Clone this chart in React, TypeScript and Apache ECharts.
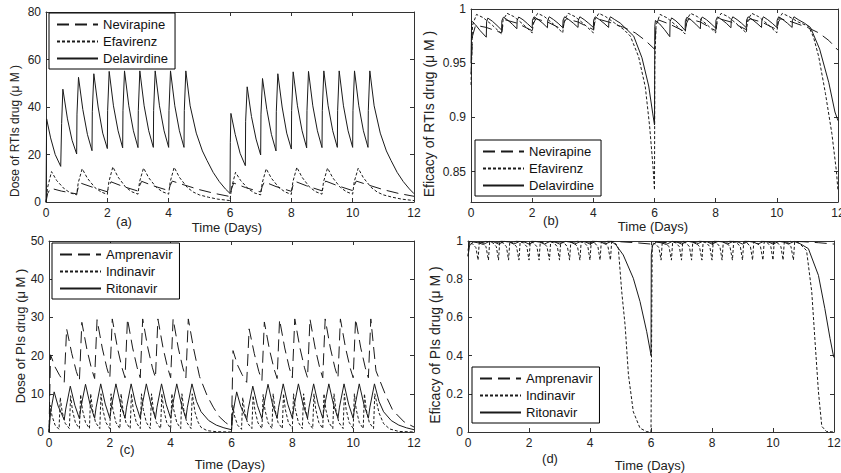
import React, { useEffect, useRef } from 'react';
import * as echarts from 'echarts';

const FONT = '"Liberation Sans", Arial, Helvetica, sans-serif';

// ---- tick labels / categories ----
const timeTicks = [0, 2, 4, 6, 8, 10, 12];
const rtiEffTicks = [0.85, 0.9, 0.95, 1];
const rtiNames = ['Nevirapine', 'Efavirenz', 'Delavirdine'];
const piNames = ['Amprenavir', 'Indinavir', 'Ritonavir'];

// ---- (a) dose of RTIs ----
const nevirapineDose = [[0,0],[0.05,3.5],[0.15,5.8],[0.5,4.6],[1,3.4],[1.05,6],[1.12,8],[1.5,6.3],[2,4.3],[2.05,6.5],[2.12,8.5],[2.5,6.6],[3,4.6],[3.05,6.8],[3.12,8.7],[3.5,6.8],[4,4.8],[4.05,7],[4.12,8.8],[4.5,7.2],[5,5.2],[5.5,3.6],[6,2.3],[6.05,5.5],[6.12,8],[6.5,6.1],[7,4.2],[7.05,6.5],[7.12,8.5],[7.5,6.5],[8,4.5],[8.05,6.8],[8.12,8.7],[8.5,6.8],[9,4.7],[9.05,7],[9.12,8.8],[9.5,6.9],[10,4.8],[10.05,7],[10.12,8.8],[10.5,7.2],[11,5.2],[11.5,3.6],[12,2.4]];
const efavirenzDose = [[0,0],[0.05,6],[0.18,12.8],[0.35,9],[0.6,5.5],[0.8,3.8],[1,3],[1.05,8],[1.18,14],[1.35,10],[1.6,6],[1.8,4.2],[2,3.2],[2.05,8.5],[2.18,14.8],[2.35,10.5],[2.6,6.2],[2.8,4.3],[3,3.3],[3.05,8.5],[3.18,14.3],[3.35,10.2],[3.6,6.1],[3.8,4.3],[4,3.3],[4.05,8.5],[4.18,14.6],[4.35,10.4],[4.6,6.2],[4.8,4.2],[5,3],[5.3,2],[5.6,1.2],[6,0.6],[6.05,6],[6.18,12.5],[6.35,9],[6.6,5.5],[6.8,3.8],[7,3],[7.05,8],[7.18,14],[7.35,10],[7.6,6],[7.8,4.2],[8,3.2],[8.05,8.5],[8.18,14.6],[8.35,10.4],[8.6,6.2],[8.8,4.3],[9,3.3],[9.05,8.5],[9.18,14.3],[9.35,10.2],[9.6,6.1],[9.8,4.3],[10,3.3],[10.05,8.5],[10.18,14.2],[10.35,10.2],[10.6,6.2],[10.8,4.2],[11,3],[11.3,2],[11.6,1.2],[12,0.6]];
const delavirdineDose = [[0,0],[0.02,35],[0.15,27],[0.3,20],[0.48,15],[0.5,15],[0.51,33],[0.55,47.5],[0.7,35],[0.85,26],[1,20.2],[1.01,37],[1.06,52.5],[1.2,39],[1.35,28.5],[1.5,21.6],[1.51,38],[1.56,54],[1.7,40],[1.85,29],[2,22.5],[2.01,38.5],[2.06,55],[2.2,40.5],[2.35,30],[2.5,22.8],[2.51,38.5],[2.56,55.2],[2.7,40.5],[2.85,30],[3,22.9],[3.01,38.5],[3.06,55.2],[3.2,40.5],[3.35,30],[3.5,23],[3.51,38.5],[3.56,55.2],[3.7,40.5],[3.85,30],[4,23],[4.01,38.5],[4.06,55.2],[4.2,40.5],[4.35,30],[4.5,23],[4.51,38.5],[4.56,55.2],[4.7,40.5],[4.9,29],[5.1,21.5],[5.25,17.5],[5.45,12.5],[5.65,8.6],[5.85,5.5],[6,3.6],[6.01,25],[6.03,37.3],[6.17,28.5],[6.33,20.5],[6.5,15.3],[6.51,34],[6.56,48.5],[6.7,36],[6.85,26.5],[7,19.8],[7.01,37],[7.06,52],[7.2,39],[7.35,28.5],[7.5,21.5],[7.51,38],[7.56,54],[7.7,40],[7.85,29],[8,22.3],[8.01,38.5],[8.06,54.8],[8.2,40.5],[8.35,30],[8.5,22.8],[8.51,38.5],[8.56,55],[8.7,40.5],[8.85,30],[9,22.9],[9.01,38.5],[9.06,55.2],[9.2,40.5],[9.35,30],[9.5,23],[9.51,38.5],[9.56,55.2],[9.7,40.5],[9.85,30],[10,23],[10.01,38.5],[10.06,55.2],[10.2,40.5],[10.35,30],[10.5,23],[10.51,38.5],[10.56,55.2],[10.7,40.5],[10.9,29],[11.1,21.5],[11.25,17.5],[11.45,12.5],[11.65,8.6],[11.85,5.5],[12,3.5]];

// ---- (b) efficacy of RTIs ----
const nevirapineEff = [[0,0.94],[0.05,0.975],[0.15,0.985],[0.5,0.983],[1,0.978],[1.05,0.986],[1.12,0.99],[1.5,0.987],[2,0.98],[2.05,0.987],[2.12,0.991],[2.5,0.988],[3,0.981],[3.05,0.988],[3.12,0.991],[3.5,0.988],[4,0.981],[4.05,0.988],[4.12,0.991],[4.5,0.988],[5,0.983],[5.37,0.978],[5.7,0.971],[6,0.963],[6.05,0.984],[6.12,0.99],[6.5,0.986],[7,0.979],[7.05,0.987],[7.12,0.991],[7.5,0.988],[8,0.98],[8.05,0.988],[8.12,0.991],[8.5,0.988],[9,0.981],[9.05,0.988],[9.12,0.991],[9.5,0.988],[10,0.981],[10.05,0.988],[10.12,0.991],[10.5,0.988],[11,0.983],[11.37,0.978],[11.7,0.971],[12,0.962]];
const efavirenzEff = [[0,0.93],[0.05,0.985],[0.18,0.995],[0.4,0.992],[0.7,0.985],[1,0.977],[1.05,0.99],[1.18,0.996],[1.4,0.993],[1.7,0.986],[2,0.978],[2.05,0.99],[2.18,0.996],[2.4,0.993],[2.7,0.986],[3,0.978],[3.05,0.99],[3.18,0.996],[3.4,0.993],[3.7,0.986],[4,0.978],[4.05,0.99],[4.18,0.996],[4.4,0.993],[4.7,0.987],[5,0.981],[5.21,0.975],[5.48,0.956],[5.7,0.928],[5.84,0.892],[5.95,0.855],[6,0.833],[6.01,0.95],[6.05,0.985],[6.18,0.995],[6.4,0.992],[6.7,0.985],[7,0.977],[7.05,0.99],[7.18,0.996],[7.4,0.993],[7.7,0.986],[8,0.978],[8.05,0.99],[8.18,0.996],[8.4,0.993],[8.7,0.986],[9,0.978],[9.05,0.99],[9.18,0.996],[9.4,0.993],[9.7,0.986],[10,0.978],[10.05,0.99],[10.18,0.996],[10.4,0.993],[10.7,0.988],[11.04,0.984],[11.2,0.974],[11.37,0.956],[11.59,0.922],[11.8,0.885],[11.95,0.85],[12,0.832]];
const delavirdineEff = [[0,0.95],[0.02,0.989],[0.15,0.9854],[0.3,0.98],[0.5,0.974],[0.51,0.988],[0.55,0.9916],[0.7,0.9887],[0.85,0.9848],[1,0.9806],[1.01,0.9893],[1.06,0.9924],[1.2,0.9898],[1.35,0.986],[1.5,0.9818],[1.51,0.9896],[1.56,0.9926],[1.7,0.9901],[1.85,0.9864],[2,0.9825],[2.01,0.9897],[2.06,0.9928],[2.2,0.9902],[2.35,0.9868],[2.5,0.9827],[2.51,0.9897],[2.56,0.9928],[2.7,0.9902],[2.85,0.9868],[3,0.9828],[3.01,0.9897],[3.06,0.9928],[3.2,0.9902],[3.35,0.9868],[3.5,0.983],[3.51,0.9897],[3.56,0.9928],[3.7,0.9902],[3.85,0.9868],[4,0.983],[4.01,0.9897],[4.06,0.9928],[4.2,0.9902],[4.35,0.9868],[4.5,0.983],[4.51,0.9897],[4.56,0.9928],[4.7,0.9902],[4.88,0.987],[5.1,0.981],[5.32,0.975],[5.59,0.955],[5.81,0.929],[5.94,0.904],[6,0.893],[6.01,0.984],[6.03,0.9894],[6.17,0.9862],[6.33,0.9809],[6.5,0.9745],[6.51,0.9884],[6.56,0.9918],[6.7,0.989],[6.85,0.985],[7,0.9802],[7.01,0.9893],[7.06,0.9924],[7.2,0.9898],[7.35,0.986],[7.5,0.9817],[7.51,0.9896],[7.56,0.9926],[7.7,0.9901],[7.85,0.9864],[8,0.9824],[8.01,0.9897],[8.06,0.9927],[8.2,0.9902],[8.35,0.9868],[8.5,0.9827],[8.51,0.9897],[8.56,0.9928],[8.7,0.9902],[8.85,0.9868],[9,0.9828],[9.01,0.9897],[9.06,0.9928],[9.2,0.9902],[9.35,0.9868],[9.5,0.983],[9.51,0.9897],[9.56,0.9928],[9.7,0.9902],[9.85,0.9868],[10,0.983],[10.01,0.9897],[10.06,0.9928],[10.2,0.9902],[10.35,0.9868],[10.5,0.983],[10.51,0.9897],[10.56,0.9928],[10.7,0.9902],[10.9,0.987],[11.1,0.983],[11.4,0.963],[11.7,0.932],[11.9,0.905],[12,0.897]];

// ---- (c) dose of PIs ----
const amprenavirDose = [[0,0],[0.05,20.2],[0.2,17],[0.35,14.8],[0.5,13],[0.58,27],[0.75,20.5],[0.9,15.8],[1,13.5],[1.08,28.7],[1.25,21.5],[1.4,16.5],[1.5,14],[1.58,29.4],[1.75,22],[1.9,16.8],[2,14.2],[2.08,29.6],[2.25,22],[2.4,16.8],[2.5,14.2],[2.58,29.6],[2.75,22],[2.9,16.8],[3,14.2],[3.08,29.6],[3.25,22],[3.4,16.8],[3.5,14.2],[3.58,29.6],[3.75,22],[3.9,16.8],[4,14.2],[4.08,29.6],[4.25,22],[4.4,16.8],[4.5,14.2],[4.58,29.6],[4.75,22],[4.95,14.5],[5.2,9.5],[5.4,6.5],[5.6,4],[5.8,2.5],[6,1.4],[6.05,21.3],[6.2,17.5],[6.35,15],[6.5,13],[6.58,27],[6.75,20.5],[6.9,15.8],[7,13.5],[7.08,28.8],[7.25,21.5],[7.4,16.5],[7.5,14],[7.58,29.4],[7.75,22],[7.9,16.8],[8,14.2],[8.08,29.6],[8.25,22],[8.4,16.8],[8.5,14.2],[8.58,29.6],[8.75,22],[8.9,16.8],[9,14.2],[9.08,29.6],[9.25,22],[9.4,16.8],[9.5,14.2],[9.58,29.6],[9.75,22],[9.9,16.8],[10,14.2],[10.08,29.6],[10.25,22],[10.4,16.8],[10.5,14.2],[10.58,29.6],[10.75,16],[11.07,9.6],[11.3,5.7],[11.68,2.6],[12,1.3]];
const indinavirDose = [[0,0],[0.04,7],[0.1,4.2],[0.2,1.8],[0.33,0.7],[0.37,9],[0.43,5.4],[0.53,2.3],[0.67,0.9],[0.71,9.5],[0.77,5.7],[0.87,2.4],[1,0.9],[1.04,9.8],[1.1,5.8],[1.2,2.5],[1.33,0.9],[1.37,10],[1.43,5.9],[1.53,2.5],[1.67,0.9],[1.71,10],[1.77,5.9],[1.87,2.5],[2,0.9],[2.04,10],[2.1,5.9],[2.2,2.5],[2.33,0.9],[2.37,10],[2.43,5.9],[2.53,2.5],[2.67,0.9],[2.71,10],[2.77,5.9],[2.87,2.5],[3,0.9],[3.04,10],[3.1,5.9],[3.2,2.5],[3.33,0.9],[3.37,10],[3.43,5.9],[3.53,2.5],[3.67,0.9],[3.71,10],[3.77,5.9],[3.87,2.5],[4,0.9],[4.04,10],[4.1,5.9],[4.2,2.5],[4.33,0.9],[4.37,10],[4.43,5.9],[4.53,2.5],[4.67,0.9],[4.71,10],[4.8,5.2],[4.9,2.6],[5,1.2],[5.2,0.35],[5.5,0.08],[6,0],[6.04,7],[6.1,4.2],[6.2,1.8],[6.33,0.7],[6.37,9],[6.43,5.4],[6.53,2.3],[6.67,0.9],[6.71,9.5],[6.77,5.7],[6.87,2.4],[7,0.9],[7.04,9.8],[7.1,5.8],[7.2,2.5],[7.33,0.9],[7.37,10],[7.43,5.9],[7.53,2.5],[7.67,0.9],[7.71,10],[7.77,5.9],[7.87,2.5],[8,0.9],[8.04,10],[8.1,5.9],[8.2,2.5],[8.33,0.9],[8.37,10],[8.43,5.9],[8.53,2.5],[8.67,0.9],[8.71,10],[8.77,5.9],[8.87,2.5],[9,0.9],[9.04,10],[9.1,5.9],[9.2,2.5],[9.33,0.9],[9.37,10],[9.43,5.9],[9.53,2.5],[9.67,0.9],[9.71,10],[9.77,5.9],[9.87,2.5],[10,0.9],[10.04,10],[10.1,5.9],[10.2,2.5],[10.33,0.9],[10.37,10],[10.43,5.9],[10.53,2.5],[10.67,0.9],[10.71,10],[10.85,5],[11,2.2],[11.2,0.8],[11.5,0.15],[12,0]];
const ritonavirDose = [[0,0],[0.05,5],[0.17,10.5],[0.3,6.8],[0.5,3.2],[0.55,6],[0.7,12],[0.85,7],[1,3.5],[1.05,6.5],[1.2,12.5],[1.35,7.2],[1.5,3.6],[1.55,6.5],[1.7,12.6],[1.85,7.3],[2,3.6],[2.05,6.5],[2.2,12.6],[2.35,7.3],[2.5,3.6],[2.55,6.5],[2.7,12.6],[2.85,7.3],[3,3.6],[3.05,6.5],[3.2,12.6],[3.35,7.3],[3.5,3.6],[3.55,6.5],[3.7,12.6],[3.85,7.3],[4,3.6],[4.05,6.5],[4.2,12.6],[4.35,7.3],[4.5,3.6],[4.55,6.5],[4.7,12.6],[4.85,8],[5,5.3],[5.25,3],[5.5,1.8],[5.75,1.1],[6,0.6],[6.05,5],[6.17,10.5],[6.3,6.8],[6.5,3.2],[6.55,6],[6.7,12],[6.85,7],[7,3.5],[7.05,6.5],[7.2,12.5],[7.35,7.2],[7.5,3.6],[7.55,6.5],[7.7,12.6],[7.85,7.3],[8,3.6],[8.05,6.5],[8.2,12.6],[8.35,7.3],[8.5,3.6],[8.55,6.5],[8.7,12.6],[8.85,7.3],[9,3.6],[9.05,6.5],[9.2,12.6],[9.35,7.3],[9.5,3.6],[9.55,6.5],[9.7,12.6],[9.85,7.3],[10,3.6],[10.05,6.5],[10.2,12.6],[10.35,7.3],[10.5,3.6],[10.55,6.5],[10.7,12.6],[10.85,8],[11,5.3],[11.25,3],[11.5,1.8],[11.75,1.1],[12,0.6]];

// ---- (d) efficacy of PIs ----
const amprenavirEff = [[0,0.95],[0.05,0.997],[0.5,0.992],[0.58,0.998],[1,0.993],[1.08,0.999],[1.5,0.994],[1.58,0.999],[2,0.994],[2.08,0.999],[2.5,0.994],[2.58,0.999],[3,0.994],[3.08,0.999],[3.5,0.994],[3.58,0.999],[4,0.994],[4.08,0.999],[4.5,0.994],[4.58,0.999],[5,0.996],[5.5,0.991],[6,0.984],[6.05,0.997],[6.5,0.992],[6.58,0.998],[7,0.993],[7.08,0.999],[7.5,0.994],[7.58,0.999],[8,0.994],[8.08,0.999],[8.5,0.994],[8.58,0.999],[9,0.994],[9.08,0.999],[9.5,0.994],[9.58,0.999],[10,0.994],[10.08,0.999],[10.5,0.994],[10.58,0.999],[11,0.996],[11.5,0.991],[12,0.984]];
const indinavirEff = [[0,0.92],[0.04,0.99],[0.15,0.985],[0.26,0.965],[0.33,0.9],[0.37,0.995],[0.48,0.99],[0.59,0.97],[0.67,0.9],[0.71,0.995],[0.82,0.99],[0.93,0.97],[1,0.9],[1.04,0.995],[1.15,0.99],[1.26,0.97],[1.33,0.9],[1.37,0.995],[1.48,0.99],[1.59,0.97],[1.67,0.9],[1.71,0.995],[1.82,0.99],[1.93,0.97],[2,0.9],[2.04,0.995],[2.15,0.99],[2.26,0.97],[2.33,0.9],[2.37,0.995],[2.48,0.99],[2.59,0.97],[2.67,0.9],[2.71,0.995],[2.82,0.99],[2.93,0.97],[3,0.9],[3.04,0.995],[3.15,0.99],[3.26,0.97],[3.33,0.9],[3.37,0.995],[3.48,0.99],[3.59,0.97],[3.67,0.9],[3.71,0.995],[3.82,0.99],[3.93,0.97],[4,0.9],[4.04,0.995],[4.15,0.99],[4.26,0.97],[4.33,0.9],[4.37,0.995],[4.48,0.99],[4.59,0.97],[4.67,0.9],[4.71,0.995],[4.85,0.985],[4.93,0.96],[5.04,0.735],[5.15,0.56],[5.26,0.3],[5.42,0.106],[5.64,0.02],[5.86,0.002],[6,0],[6.04,0.99],[6.15,0.985],[6.26,0.965],[6.33,0.9],[6.37,0.995],[6.48,0.99],[6.59,0.97],[6.67,0.9],[6.71,0.995],[6.82,0.99],[6.93,0.97],[7,0.9],[7.04,0.995],[7.15,0.99],[7.26,0.97],[7.33,0.9],[7.37,0.995],[7.48,0.99],[7.59,0.97],[7.67,0.9],[7.71,0.995],[7.82,0.99],[7.93,0.97],[8,0.9],[8.04,0.995],[8.15,0.99],[8.26,0.97],[8.33,0.9],[8.37,0.995],[8.48,0.99],[8.59,0.97],[8.67,0.9],[8.71,0.995],[8.82,0.99],[8.93,0.97],[9,0.9],[9.04,0.995],[9.15,0.99],[9.26,0.97],[9.33,0.9],[9.37,0.995],[9.48,0.99],[9.59,0.97],[9.67,0.9],[9.71,0.995],[9.82,0.99],[9.93,0.97],[10,0.9],[10.04,0.995],[10.15,0.99],[10.26,0.97],[10.33,0.9],[10.37,0.995],[10.48,0.99],[10.59,0.97],[10.67,0.9],[10.71,0.995],[10.85,0.99],[11.1,0.95],[11.27,0.735],[11.38,0.47],[11.49,0.21],[11.6,0.03],[11.75,0.003],[12,0]];
const ritonavirEff = [[0,0.92],[0.05,0.975],[0.17,0.995],[0.35,0.99],[0.5,0.982],[0.7,0.998],[0.85,0.995],[1,0.984],[1.2,0.998],[1.35,0.995],[1.5,0.984],[1.7,0.998],[1.85,0.995],[2,0.984],[2.2,0.998],[2.35,0.995],[2.5,0.984],[2.7,0.998],[2.85,0.995],[3,0.984],[3.2,0.998],[3.35,0.995],[3.5,0.984],[3.7,0.998],[3.85,0.995],[4,0.984],[4.2,0.998],[4.35,0.995],[4.5,0.984],[4.7,0.998],[4.85,0.98],[5.09,0.927],[5.42,0.805],[5.64,0.683],[5.86,0.525],[5.99,0.412],[6,0.4],[6.01,0.93],[6.05,0.975],[6.17,0.995],[6.35,0.99],[6.5,0.982],[6.7,0.998],[6.85,0.995],[7,0.984],[7.2,0.998],[7.35,0.995],[7.5,0.984],[7.7,0.998],[7.85,0.995],[8,0.984],[8.2,0.998],[8.35,0.995],[8.5,0.984],[8.7,0.998],[8.85,0.995],[9,0.984],[9.2,0.998],[9.35,0.995],[9.5,0.984],[9.7,0.998],[9.85,0.995],[10,0.984],[10.2,0.998],[10.35,0.995],[10.5,0.984],[10.7,0.998],[10.9,0.985],[11.16,0.96],[11.49,0.82],[11.7,0.646],[11.87,0.49],[11.98,0.4],[12,0.39]];

const LONG_DASH = [12, 6];
const SHORT_DASH = [3, 2];
const LINE_COLOR = '#1a1a1a';
const AXIS_COLOR = '#333';

function buildOption() {
  const grids = [
    { left: 46, top: 12, width: 368, height: 190 },
    { left: 471, top: 9, width: 367, height: 193 },
    { left: 49, top: 241, width: 365, height: 191 },
    { left: 468, top: 241, width: 366, height: 191 },
  ];
  const yRanges: any[] = [
    { min: 0, max: 80, interval: 20 },
    { min: 0.822, max: 1, custom: rtiEffTicks },
    { min: 0, max: 50, interval: 10 },
    { min: 0, max: 1, interval: 0.2 },
  ];
  const xAxis: any[] = [];
  const yAxis: any[] = [];
  grids.forEach((_, i) => {
    ['bottom', 'top'].forEach((pos) =>
      xAxis.push({
        type: 'value', gridIndex: i, position: pos, min: 0, max: 12, interval: 2,
        axisLine: { show: true, onZero: false, lineStyle: { color: AXIS_COLOR, width: 1 } },
        axisTick: { show: true, inside: true, length: 4, lineStyle: { color: AXIS_COLOR }, customValues: timeTicks },
        axisLabel: { show: pos === 'bottom', color: '#222', fontSize: 12, fontFamily: FONT, margin: 5, customValues: timeTicks },
        splitLine: { show: false },
      })
    );
    const yr = yRanges[i];
    ['left', 'right'].forEach((pos) =>
      yAxis.push({
        type: 'value', gridIndex: i, position: pos, min: yr.min, max: yr.max,
        ...(yr.interval ? { interval: yr.interval } : {}),
        axisLine: { show: true, onZero: false, lineStyle: { color: AXIS_COLOR, width: 1 } },
        axisTick: { show: true, inside: true, length: 4, lineStyle: { color: AXIS_COLOR }, ...(yr.custom ? { customValues: yr.custom } : {}) },
        axisLabel: { show: pos === 'left', color: '#222', fontSize: 12, fontFamily: FONT, margin: 5, ...(yr.custom ? { customValues: yr.custom } : {}) },
        splitLine: { show: false },
      })
    );
  });

  const mk = (name: string, data: number[][], gi: number, dash: any) => ({
    type: 'line', name, data, xAxisIndex: gi * 2, yAxisIndex: gi * 2,
    symbol: 'none', showSymbol: false, silent: true, clip: true,
    lineStyle: { color: LINE_COLOR, width: 1, type: dash },
    itemStyle: { color: LINE_COLOR },
  });

  const series = [
    mk('Nevirapine', nevirapineDose, 0, LONG_DASH),
    mk('Efavirenz', efavirenzDose, 0, SHORT_DASH),
    mk('Delavirdine', delavirdineDose, 0, 'solid'),
    mk('Nevirapine', nevirapineEff, 1, LONG_DASH),
    mk('Efavirenz', efavirenzEff, 1, SHORT_DASH),
    mk('Delavirdine', delavirdineEff, 1, 'solid'),
    mk('Amprenavir', amprenavirDose, 2, LONG_DASH),
    mk('Indinavir', indinavirDose, 2, SHORT_DASH),
    mk('Ritonavir', ritonavirDose, 2, 'solid'),
    mk('Amprenavir', amprenavirEff, 3, LONG_DASH),
    mk('Indinavir', indinavirEff, 3, SHORT_DASH),
    mk('Ritonavir', ritonavirEff, 3, 'solid'),
  ];

  const legendBase = {
    orient: 'vertical', itemWidth: 41, itemHeight: 14, itemGap: 4,
    padding: [5, 7, 4, 7], borderColor: '#000', borderWidth: 1, borderRadius: 0,
    backgroundColor: '#fff', selectedMode: false,
    itemStyle: { color: 'rgba(0,0,0,0)', borderColor: 'rgba(0,0,0,0)', borderWidth: 0, opacity: 0 },
    textStyle: { fontSize: 13, color: '#111', fontFamily: FONT },
  };
  const legend = [
    { ...legendBase, data: rtiNames, left: 49, top: 13 },
    { ...legendBase, data: rtiNames, left: 475, top: 140 },
    { ...legendBase, data: piNames, left: 52, top: 243 },
    { ...legendBase, data: piNames, left: 472, top: 367 },
  ];

  const txt = (text: string, x: number, y: number, size: number, rot = 0) => ({
    type: 'text', x, y, rotation: rot, silent: true,
    style: { text, font: `${size}px ${FONT}`, fill: '#222', textAlign: 'center', textVerticalAlign: 'middle' },
  });
  const graphic = [
    txt('Dose of RTIs drug (μ M )', 15, 131, 12, Math.PI / 2),
    txt('Eficacy of RTIs drug (μ M )', 429, 114, 14, Math.PI / 2),
    txt('Dose of PIs drug (μ M )', 20, 336, 13, Math.PI / 2),
    txt('Eficacy of PIs drug (μ M )', 435, 345, 14, Math.PI / 2),
    txt('Time (Days)', 227, 227, 13),
    txt('Time (Days)', 653, 226, 13),
    txt('Time (Days)', 230, 464, 13),
    txt('Time (Days)', 650, 465, 13),
    txt('(a)', 124, 221, 13),
    txt('(b)', 551, 220, 13),
    txt('(c)', 127, 449, 13),
    txt('(d)', 550, 458, 13),
  ];

  return {
    animation: false,
    backgroundColor: '#fff',
    textStyle: { fontFamily: FONT },
    grid: grids.map((g) => ({ ...g, containLabel: false, outerBoundsMode: 'none' })),
    xAxis, yAxis, series, legend, graphic,
  };
}

export default function App() {
  const ref = useRef<HTMLDivElement>(null);
  useEffect(() => {
    if (!ref.current) return;
    const chart = echarts.init(ref.current, undefined, { renderer: 'svg' });
    chart.setOption(buildOption() as any);
    return () => chart.dispose();
  }, []);
  return (
    <div
      ref={ref}
      style={{ position: 'absolute', left: 0, top: 0, width: 841, height: 473, background: '#fff' }}
    />
  );
}
